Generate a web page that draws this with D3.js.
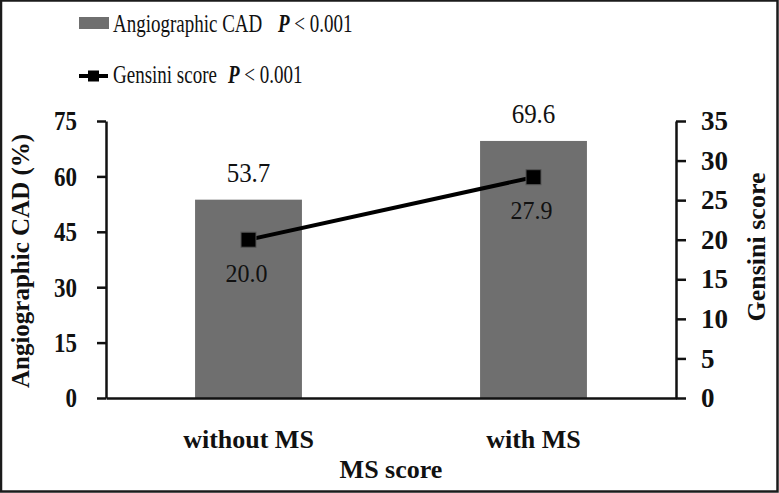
<!DOCTYPE html>
<html><head><meta charset="utf-8">
<script src="https://cdn.jsdelivr.net/npm/d3@7"></script>
<style>
html,body{margin:0;padding:0;background:#fff;}
svg{display:block;}
</style></head>
<body>
<svg id="chart" width="779" height="493"></svg>
<script>
const categories = ["without MS", "with MS"];
const cadValues = [53.7, 69.6];
const gensiniValues = [20.0, 27.9];
const leftTicks = [0, 15, 30, 45, 60, 75];
const rightTicks = [0, 5, 10, 15, 20, 25, 30, 35];
const legendLabels = ["Angiographic CAD", "Gensini score"];
const legendP = "P < 0.001";

const FONT = "Liberation Serif";
const svg = d3.select("#chart");
const W = 779, H = 493;
const ink = "#111";
const barColor = "#6f6f6f";

// frame
svg.append("rect").attr("x", 1).attr("y", 0.5).attr("width", W - 2.5).attr("height", H - 2)
  .attr("fill", "#fff").attr("stroke", "#1b1b1b").attr("stroke-width", 2.5);

const plot = {left: 106, right: 676, top: 121, bottom: 398};

const x = d3.scaleBand().domain(categories).range([plot.left, plot.right])
  .paddingInner(0.625).paddingOuter(0.3125);
const yL = d3.scaleLinear().domain([0, 75]).range([plot.bottom, plot.top]);
const yR = d3.scaleLinear().domain([0, 35]).range([plot.bottom, plot.top]);

function txt(g, s, xx, yy, opts) {
  opts = opts || {};
  const t = g.append("text")
    .attr("transform", `translate(${xx},${yy})${opts.rot ? ` rotate(${opts.rot})` : ""} scale(${opts.sx || 1},${opts.sy || 1})`)
    .attr("text-anchor", opts.anchor || "middle")
    .style("font-family", FONT)
    .style("font-size", (opts.size || 22) + "px")
    .style("font-weight", opts.bold ? "bold" : "normal")
    .attr("fill", ink)
    .text(s);
  return t;
}

// bars
svg.append("g").selectAll("rect").data(cadValues).join("rect")
  .attr("x", (d, i) => x(categories[i]))
  .attr("y", d => yL(d))
  .attr("width", x.bandwidth())
  .attr("height", d => yL(0) - yL(d))
  .attr("fill", barColor);

// axes
const axL = svg.append("g").attr("transform", `translate(${plot.left},0)`)
  .call(d3.axisLeft(yL).tickValues(leftTicks).tickSize(9).tickPadding(20).tickSizeOuter(0));
const axR = svg.append("g").attr("transform", `translate(${plot.right},0)`)
  .call(d3.axisRight(yR).tickValues(rightTicks).tickSize(10).tickPadding(15).tickSizeOuter(0));
[axL, axR].forEach(a => {
  a.attr("font-family", null).attr("font-size", null);
  a.select(".domain").attr("stroke", ink).attr("stroke-width", 2.5);
  a.selectAll(".tick line").attr("stroke", ink).attr("stroke-width", 2.5);
  a.selectAll(".tick text").style("font-family", FONT)
    .style("font-weight", "bold").attr("fill", ink);
});
axL.selectAll(".tick text").style("font-size", "23px").attr("transform", "scale(1,1.2)");
axR.selectAll(".tick text").style("font-size", "27px");

// bottom axis line
svg.append("g").attr("transform", `translate(0,${plot.bottom})`)
  .call(d3.axisBottom(x).tickSize(0).tickFormat(""))
  .call(g => g.select(".domain").attr("stroke", ink).attr("stroke-width", 2.5));

// category labels
categories.forEach((c, i) => {
  txt(svg, c, x(c) + x.bandwidth() / 2, 448, {size: 26, bold: true});
});
txt(svg, "MS score", (plot.left + plot.right) / 2, 478, {size: 26, bold: true});

// axis titles
txt(svg, "Angiographic CAD (%)", 29, 261, {size: 25, bold: true, rot: -90});
txt(svg, "Gensini score", 765, 247, {size: 26, bold: true, rot: -90});

// line
const cx = (d, i) => x(categories[i]) + x.bandwidth() / 2;
const line = d3.line().x((d, i) => cx(d, i)).y(d => yR(d));
svg.append("path").datum(gensiniValues).attr("d", line)
  .attr("fill", "none").attr("stroke", "#000").attr("stroke-width", 4);
svg.append("g").selectAll("rect").data(gensiniValues).join("rect")
  .attr("x", (d, i) => cx(d, i) - 7.5).attr("y", d => yR(d) - 7.5)
  .attr("width", 15).attr("height", 15)
  .attr("fill", "#000").attr("stroke", "#555").attr("stroke-width", 1);

// value labels
cadValues.forEach((v, i) => {
  txt(svg, v.toFixed(1), cx(v, i), yL(v) - 18, {size: 25, sy: 1.05});
});
gensiniValues.forEach((v, i) => {
  txt(svg, v.toFixed(1), cx(v, i) - 2, yR(v) + 42, {size: 24, sy: 1.05});
});

// legend
const lg = svg.append("g");
lg.append("rect").attr("x", 79).attr("y", 17).attr("width", 30).attr("height", 12).attr("fill", barColor);
txt(lg, legendLabels[0], 113, 32, {size: 19, anchor: "start", sy: 1.35});
const p1 = txt(lg, "", 278, 32, {size: 19, anchor: "start", sy: 1.35});
p1.append("tspan").style("font-style", "italic").style("font-weight", "bold").text("P");
p1.append("tspan").text(" < 0.001");

lg.append("line").attr("x1", 79).attr("x2", 108).attr("y1", 76).attr("y2", 76)
  .attr("stroke", "#000").attr("stroke-width", 4);
lg.append("rect").attr("x", 88).attr("y", 70.5).attr("width", 11).attr("height", 11).attr("fill", "#000");
txt(lg, legendLabels[1], 113, 83, {size: 19, anchor: "start", sy: 1.35});
const p2 = txt(lg, "", 228, 83, {size: 19, anchor: "start", sy: 1.35});
p2.append("tspan").style("font-style", "italic").style("font-weight", "bold").text("P");
p2.append("tspan").text(" < 0.001");
</script>
</body></html>
